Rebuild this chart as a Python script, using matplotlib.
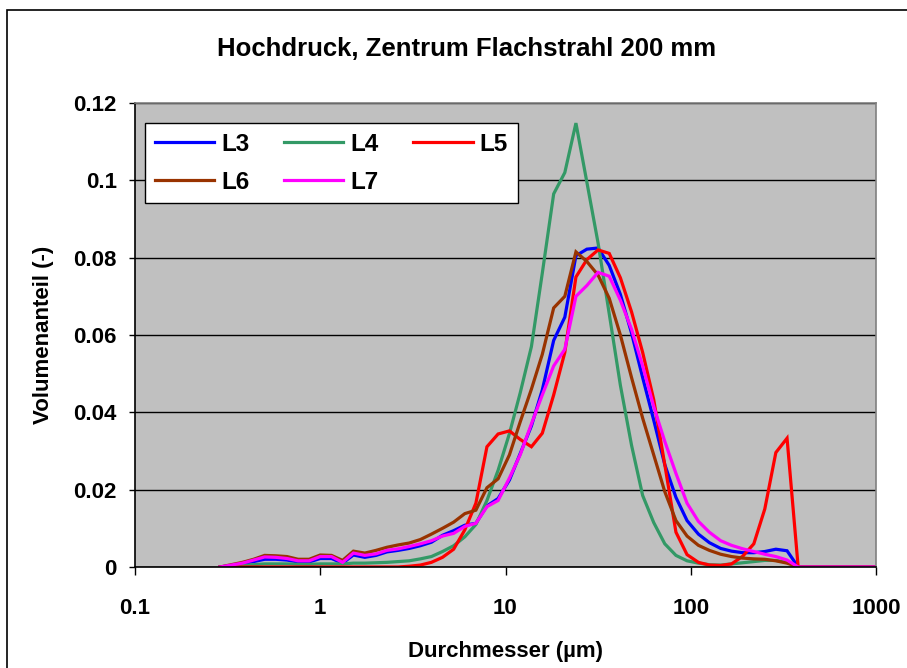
import matplotlib
matplotlib.use("Agg")
import matplotlib.pyplot as plt
from matplotlib.patches import Rectangle

# ============================================================
# Data
# ============================================================

durchmesser = [
    0.288, 0.331, 0.380, 0.437, 0.501, 0.575, 0.661, 0.759, 0.871, 1.00,
    1.15, 1.32, 1.51, 1.74, 2.00, 2.29, 2.63, 3.02, 3.47, 3.98,
    4.57, 5.25, 6.03, 6.92, 7.94, 9.12, 10.5, 12.0, 13.8, 15.8,
    18.2, 20.9, 24.0, 27.5, 31.6, 36.3, 41.7, 47.9, 55.0, 63.1,
    72.4, 83.2, 95.5, 110, 126, 145, 166, 191, 219, 251,
    288, 331, 380, 437, 501, 575, 661, 759, 871, 1000,
]

l3 = [
    0, 0.0004, 0.0009, 0.0014, 0.0020, 0.0020, 0.0018, 0.0013, 0.0013, 0.0022,
    0.0022, 0.0010, 0.0031, 0.0025, 0.0030, 0.0039, 0.0043, 0.0048, 0.0055, 0.0064,
    0.0082, 0.0094, 0.0108, 0.0113, 0.0158, 0.0177, 0.0225, 0.0293, 0.0365, 0.0458,
    0.0586, 0.0646, 0.0805, 0.0822, 0.0825, 0.0780, 0.0705, 0.0605, 0.0490, 0.0380,
    0.0265, 0.0180, 0.0120, 0.0085, 0.0063, 0.0048, 0.0041, 0.0037, 0.0037, 0.0040,
    0.0046, 0.0042, 0, 0, 0, 0, 0, 0, 0, 0,
]

l4 = [
    0, 0.0002, 0.0004, 0.0006, 0.0008, 0.0008, 0.0008, 0.0007, 0.0007, 0.0008,
    0.0008, 0.0008, 0.0010, 0.0010, 0.0011, 0.0012, 0.0014, 0.0016, 0.0021, 0.0027,
    0.0040, 0.0055, 0.0078, 0.0110, 0.0172, 0.0250, 0.0345, 0.0450, 0.0570, 0.0760,
    0.0965, 0.1020, 0.1148, 0.0995, 0.0838, 0.0655, 0.0470, 0.0315, 0.0185, 0.0115,
    0.0060, 0.0030, 0.0016, 0.0010, 0.0006, 0.0005, 0.0008, 0.0011, 0.0014, 0.0017,
    0.0017, 0.0012, 0, 0, 0, 0, 0, 0, 0, 0,
]

l5 = [
    0, 0, 0, 0, 0, 0, 0, 0, 0, 0,
    0, 0, 0, 0, 0, 0, 0, 0.0002, 0.0005, 0.0012,
    0.0025, 0.0046, 0.0096, 0.0165, 0.0311, 0.0344, 0.0352, 0.0330, 0.0311, 0.0346,
    0.0445, 0.0555, 0.0750, 0.0795, 0.0820, 0.0811, 0.0748, 0.0660, 0.0555, 0.0433,
    0.0265, 0.0090, 0.0032, 0.0012, 0.0005, 0.0004, 0.0008, 0.0028, 0.0060, 0.0150,
    0.0296, 0.0333, 0, 0, 0, 0, 0, 0, 0, 0,
]

l6 = [
    0, 0.0006, 0.0012, 0.0020, 0.0030, 0.0029, 0.0027, 0.0020, 0.0020, 0.0031,
    0.0030, 0.0017, 0.0041, 0.0036, 0.0043, 0.0051, 0.0057, 0.0062, 0.0071, 0.0085,
    0.0100, 0.0116, 0.0138, 0.0147, 0.0205, 0.0228, 0.0290, 0.0375, 0.0460, 0.0550,
    0.0670, 0.0700, 0.0815, 0.0790, 0.0755, 0.0695, 0.0600, 0.0490, 0.0385, 0.0290,
    0.0195, 0.0120, 0.0080, 0.0056, 0.0043, 0.0033, 0.0027, 0.0023, 0.0021, 0.0020,
    0.0016, 0.0010, 0, 0, 0, 0, 0, 0, 0, 0,
]

l7 = [
    0, 0.0005, 0.0010, 0.0018, 0.0026, 0.0025, 0.0022, 0.0016, 0.0016, 0.0027,
    0.0027, 0.0012, 0.0036, 0.0030, 0.0034, 0.0043, 0.0047, 0.0053, 0.0060, 0.0068,
    0.0080, 0.0087, 0.0105, 0.0113, 0.0156, 0.0172, 0.0230, 0.0290, 0.0370, 0.0445,
    0.0520, 0.0563, 0.0700, 0.0728, 0.0762, 0.0752, 0.0690, 0.0615, 0.0520, 0.0415,
    0.0325, 0.0242, 0.0165, 0.0118, 0.0090, 0.0068, 0.0056, 0.0047, 0.0040, 0.0033,
    0.0027, 0.0018, 0, 0, 0, 0, 0, 0, 0, 0,
]

series_names = ["L3", "L4", "L5", "L6", "L7"]
series_values = [l3, l4, l5, l6, l7]
series_colors = ["#0000FF", "#339966", "#FF0000", "#993300", "#FF00FF"]

x_ticks = [0.1, 1, 10, 100, 1000]
x_tick_labels = ["0.1", "1", "10", "100", "1000"]
y_ticks = [0, 0.02, 0.04, 0.06, 0.08, 0.1, 0.12]
y_tick_labels = ["0", "0.02", "0.04", "0.06", "0.08", "0.1", "0.12"]

# ============================================================
# Plot
# ============================================================

plt.rcParams["font.family"] = ["Liberation Sans", "DejaVu Sans"]
plt.rcParams["font.weight"] = "bold"

W, H = 907, 668
fig = plt.figure(figsize=(W / 100, H / 100), dpi=100)
fig.patch.set_facecolor("white")

# outer chart border (runs off right/bottom edge)
fig.patches.append(
    Rectangle((7 / W, -0.1), 1.2, (H - 10) / H + 0.1, transform=fig.transFigure,
              fill=False, edgecolor="black", linewidth=1.2)
)

ax = fig.add_axes([135 / W, (H - 567) / H, (876 - 135) / W, (567 - 103) / H])
ax.set_facecolor("#C0C0C0")

lines = {}
for name, vals, col in zip(series_names, series_values, series_colors):
    (ln,) = ax.plot(durchmesser, vals, color=col, linewidth=2.3, label=name,
                    solid_joinstyle="miter")
    lines[name] = ln

ax.set_xscale("log")
ax.set_xlim(0.1, 1000)
ax.set_ylim(0, 0.12)

ax.set_xticks(x_ticks)
ax.set_xticklabels(x_tick_labels)
ax.xaxis.set_minor_locator(matplotlib.ticker.NullLocator())
ax.set_yticks(y_ticks)
ax.set_yticklabels(y_tick_labels)

ax.tick_params(axis="x", direction="out", length=6, width=1, pad=16, labelsize=16)
ax.tick_params(axis="y", direction="out", length=4, width=1, pad=9, labelsize=16)
for lab in ax.get_xticklabels() + ax.get_yticklabels():
    lab.set_fontweight("bold")

ax.grid(True, axis="y", color="black", linewidth=1)
ax.set_axisbelow(True)

ax.spines["left"].set_color("black")
ax.spines["bottom"].set_color("black")
ax.spines["top"].set_color("#808080")
ax.spines["right"].set_color("#808080")
for s in ax.spines.values():
    s.set_linewidth(1.2)

ax.set_xlabel("Durchmesser (µm)", fontsize=16, fontweight="bold", labelpad=16)
ax.set_ylabel("Volumenanteil (-)", fontsize=16, fontweight="bold", labelpad=14)

fig.text(467 / W, (H - 49) / H, "Hochdruck, Zentrum Flachstrahl 200 mm",
         ha="center", va="center", fontsize=18.5, fontweight="bold")

# Excel fills legend row-wise; matplotlib fills column-wise, so reorder
order = ["L3", "L6", "L4", "L7", "L5"]
leg = ax.legend(
    [lines[n] for n in order], order,
    ncol=3, loc="upper left", bbox_to_anchor=(0.0135, 0.957),
    frameon=True, fancybox=False, framealpha=1, edgecolor="black",
    prop={"size": 17.5, "weight": "bold"},
    handlelength=2.45, handletextpad=0.3, columnspacing=1.4,
    labelspacing=0.62, borderpad=0.4, borderaxespad=0,
)
leg.get_frame().set_linewidth(1)

fig.savefig("out.png", dpi=100)
